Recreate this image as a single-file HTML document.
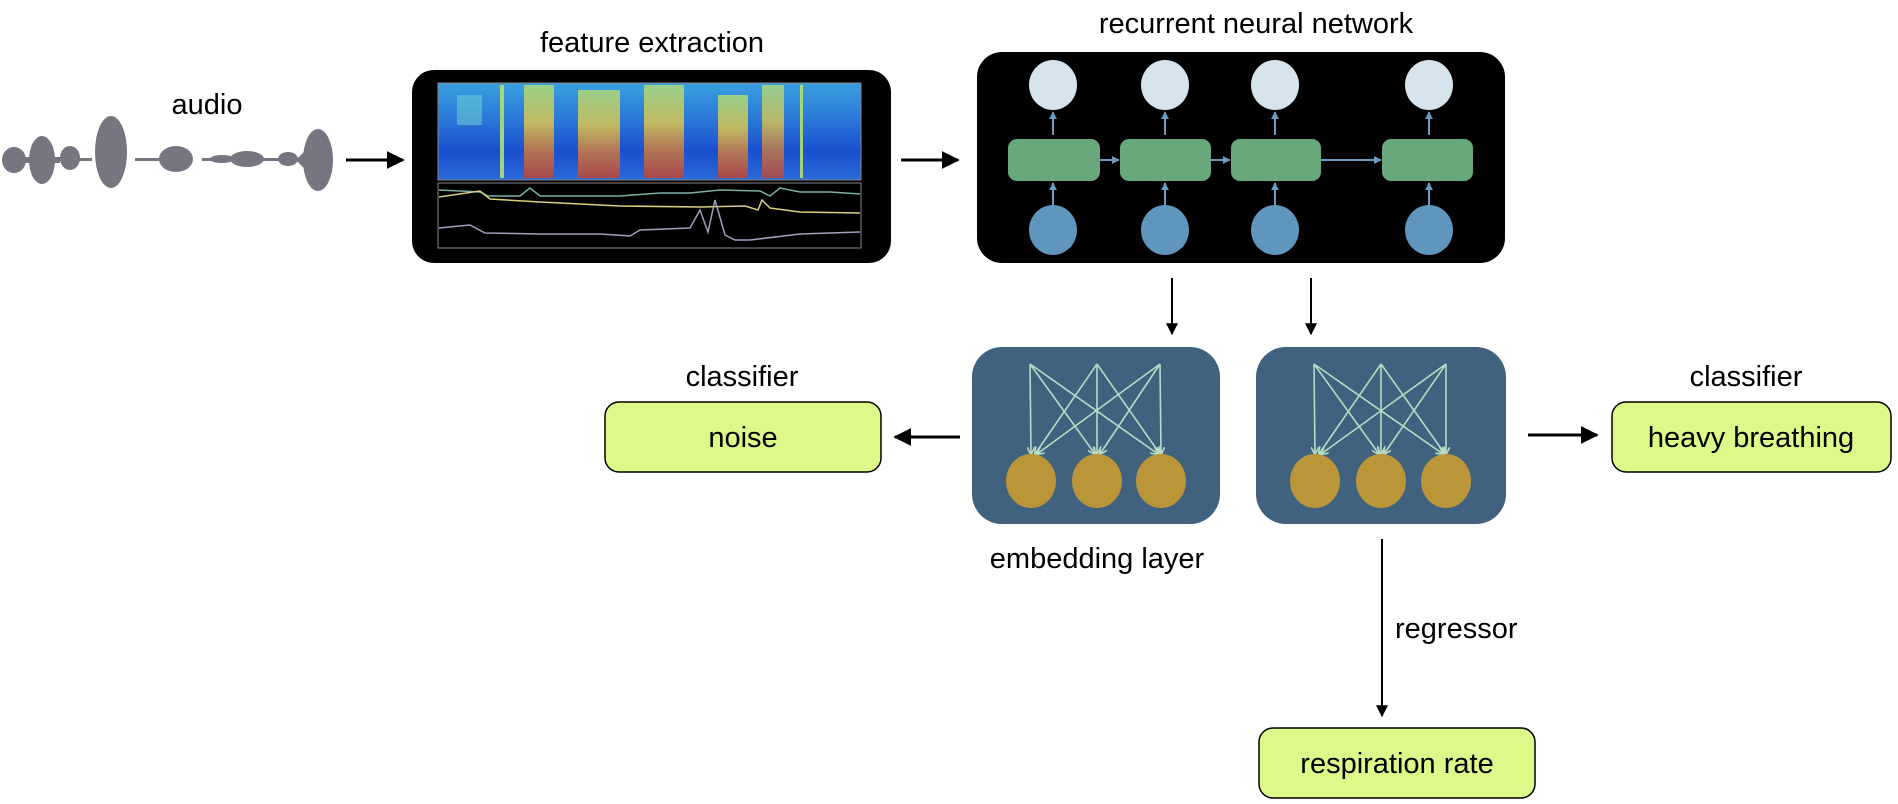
<!DOCTYPE html>
<html><head><meta charset="utf-8"><style>
html,body{margin:0;padding:0;background:#fff;}
svg{display:block;}
text{font-family:"Liberation Sans",Arial,sans-serif;fill:#000;}
</style></head><body>
<svg width="1898" height="804" viewBox="0 0 1898 804" xmlns="http://www.w3.org/2000/svg">
<defs>
<marker id="ah" viewBox="0 0 10 10" refX="9" refY="5" markerWidth="6" markerHeight="6" orient="auto"><path d="M0,0 L10,5 L0,10 z" fill="#000"/></marker>
<marker id="ahs" viewBox="0 0 10 10" refX="9" refY="5" markerWidth="4" markerHeight="4" orient="auto"><path d="M0,0 L10,5 L0,10 z" fill="#6a9cc4"/></marker>
<marker id="ahg" viewBox="0 0 10 10" refX="9" refY="5" markerWidth="5" markerHeight="5" orient="auto"><path d="M0,0 L10,5 L0,10" fill="none" stroke="#b6dcc4" stroke-width="2"/></marker>
<linearGradient id="spec" x1="0" y1="0" x2="0" y2="1">
<stop offset="0" stop-color="#3aa0e0"/><stop offset="0.35" stop-color="#2b7ad8"/><stop offset="0.7" stop-color="#1a4fd0"/><stop offset="1" stop-color="#2a6ad8"/></linearGradient>
<linearGradient id="hot" x1="0" y1="0" x2="0" y2="1">
<stop offset="0" stop-color="#b8e070"/><stop offset="0.4" stop-color="#f0d040"/><stop offset="0.7" stop-color="#e08030"/><stop offset="1" stop-color="#d04020"/></linearGradient>
</defs>

<!-- audio -->
<text x="207" y="114" font-size="29" text-anchor="middle">audio</text>
<g fill="#767680">
<ellipse cx="14" cy="160" rx="12" ry="13"/>
<ellipse cx="42" cy="160" rx="13" ry="24"/>
<rect x="20" y="157" width="40" height="6"/>
<ellipse cx="70" cy="158" rx="10" ry="12"/>
<rect x="52" y="158" width="40" height="3"/>
<ellipse cx="111" cy="152" rx="16" ry="36"/>
<rect x="135" y="158" width="30" height="3"/>
<ellipse cx="176" cy="159" rx="17" ry="13"/>
<rect x="202" y="158" width="30" height="3"/>
<ellipse cx="247" cy="159" rx="17" ry="8"/>
<ellipse cx="222" cy="159" rx="12" ry="4"/>
<rect x="260" y="158" width="25" height="3"/>
<ellipse cx="288" cy="159" rx="10" ry="7"/>
<ellipse cx="318" cy="160" rx="15" ry="31"/>
<path d="M296,160 Q305,150 318,140 L318,180 Q305,170 296,160z"/>
</g>
<line x1="346" y1="160" x2="403" y2="160" stroke="#000" stroke-width="3" marker-end="url(#ah)"/>

<!-- feature extraction -->
<text x="652" y="52" font-size="29" text-anchor="middle">feature extraction</text>
<rect x="412" y="70" width="479" height="193" rx="22" fill="#000"/>
<rect x="438" y="83" width="423" height="97" fill="url(#spec)" stroke="#888"/>
<g opacity="0.9">
<rect x="500" y="85" width="4" height="93" fill="#b0e070"/>
<rect x="524" y="85" width="30" height="93" fill="url(#hot)" opacity="0.85"/>
<rect x="578" y="90" width="42" height="88" fill="url(#hot)" opacity="0.85"/>
<rect x="644" y="85" width="40" height="93" fill="url(#hot)" opacity="0.85"/>
<rect x="718" y="95" width="30" height="83" fill="url(#hot)" opacity="0.85"/>
<rect x="762" y="85" width="22" height="93" fill="url(#hot)" opacity="0.8"/>
<rect x="800" y="85" width="3" height="93" fill="#b0e070"/>
<rect x="457" y="95" width="25" height="30" fill="#70d0d0" opacity="0.6"/>
</g>
<rect x="438" y="183" width="423" height="65" fill="#000" stroke="#888"/>
<polyline points="439,190 480,192 488,196 520,196 530,188 540,196 620,196 660,193 690,193 720,190 760,191 770,196 780,188 800,192 830,192 860,194" fill="none" stroke="#7ab0a8" stroke-width="1.5"/>
<polyline points="439,197 480,191 490,199 540,202 620,206 700,207 745,206 758,210 762,200 770,208 800,212 860,213" fill="none" stroke="#d8d080" stroke-width="1.5"/>
<polyline points="439,228 470,225 485,233 540,234 600,234 630,236 640,230 690,228 700,210 708,232 715,200 725,235 735,240 750,240 800,234 860,232" fill="none" stroke="#a0a0c0" stroke-width="1.5"/>
<line x1="901" y1="160" x2="958" y2="160" stroke="#000" stroke-width="3" marker-end="url(#ah)"/>

<!-- RNN -->
<text x="1256" y="33" font-size="29" text-anchor="middle">recurrent neural network</text>
<rect x="977" y="52" width="528" height="211" rx="25" fill="#000"/>
<g fill="#d6e4ee">
<ellipse cx="1053" cy="85" rx="24" ry="25"/><ellipse cx="1165" cy="85" rx="24" ry="25"/>
<ellipse cx="1275" cy="85" rx="24" ry="25"/><ellipse cx="1429" cy="85" rx="24" ry="25"/>
</g>
<g fill="#6096be">
<ellipse cx="1053" cy="230" rx="24" ry="25"/><ellipse cx="1165" cy="230" rx="24" ry="25"/>
<ellipse cx="1275" cy="230" rx="24" ry="25"/><ellipse cx="1429" cy="230" rx="24" ry="25"/>
</g>
<g stroke="#6a9cc4" stroke-width="2" marker-end="url(#ahs)">
<line x1="1053" y1="135" x2="1053" y2="112"/><line x1="1165" y1="135" x2="1165" y2="112"/>
<line x1="1275" y1="135" x2="1275" y2="112"/><line x1="1429" y1="135" x2="1429" y2="112"/>
<line x1="1053" y1="205" x2="1053" y2="183"/><line x1="1165" y1="205" x2="1165" y2="183"/>
<line x1="1275" y1="205" x2="1275" y2="183"/><line x1="1429" y1="205" x2="1429" y2="183"/>
<line x1="1100" y1="160" x2="1119" y2="160"/><line x1="1211" y1="160" x2="1230" y2="160"/>
<line x1="1321" y1="160" x2="1381" y2="160"/>
</g>
<g fill="#68a87b">
<rect x="1008" y="139" width="92" height="42" rx="9"/><rect x="1120" y="139" width="91" height="42" rx="9"/>
<rect x="1231" y="139" width="90" height="42" rx="9"/><rect x="1382" y="139" width="91" height="42" rx="9"/>
</g>
<g stroke="#000" stroke-width="2" marker-end="url(#ah)">
<line x1="1172" y1="278" x2="1172" y2="334"/>
<line x1="1311" y1="278" x2="1311" y2="334"/>
</g>

<!-- embedding boxes -->
<rect x="972" y="347" width="248" height="177" rx="30" fill="#41627e"/>
<rect x="1256" y="347" width="250" height="177" rx="30" fill="#41627e"/>
<g stroke="#b6dcc4" stroke-width="1.6" marker-end="url(#ahg)">
<line x1="1030" y1="364" x2="1031" y2="454"/><line x1="1030" y1="364" x2="1095" y2="454"/><line x1="1030" y1="364" x2="1158" y2="454"/>
<line x1="1097" y1="364" x2="1035" y2="454"/><line x1="1097" y1="364" x2="1097" y2="454"/><line x1="1097" y1="364" x2="1160" y2="454"/>
<line x1="1160" y1="364" x2="1037" y2="454"/><line x1="1160" y1="364" x2="1100" y2="454"/><line x1="1160" y1="364" x2="1161" y2="454"/>
<line x1="1314" y1="364" x2="1315" y2="454"/><line x1="1314" y1="364" x2="1379" y2="454"/><line x1="1314" y1="364" x2="1443" y2="454"/>
<line x1="1381" y1="364" x2="1319" y2="454"/><line x1="1381" y1="364" x2="1381" y2="454"/><line x1="1381" y1="364" x2="1445" y2="454"/>
<line x1="1446" y1="364" x2="1321" y2="454"/><line x1="1446" y1="364" x2="1384" y2="454"/><line x1="1446" y1="364" x2="1446" y2="454"/>
</g>
<g fill="#bb9638">
<ellipse cx="1031" cy="481" rx="25" ry="27"/><ellipse cx="1097" cy="481" rx="25" ry="27"/><ellipse cx="1161" cy="481" rx="25" ry="27"/>
<ellipse cx="1315" cy="481" rx="25" ry="27"/><ellipse cx="1381" cy="481" rx="25" ry="27"/><ellipse cx="1446" cy="481" rx="25" ry="27"/>
</g>
<text x="1097" y="568" font-size="29" text-anchor="middle">embedding layer</text>

<!-- classifiers -->
<text x="742" y="386" font-size="29" text-anchor="middle">classifier</text>
<rect x="605" y="402" width="276" height="70" rx="14" fill="#ddf98a" stroke="#000" stroke-width="1.5"/>
<text x="743" y="447" font-size="29" text-anchor="middle">noise</text>
<line x1="960" y1="437" x2="895" y2="437" stroke="#000" stroke-width="3" marker-end="url(#ah)"/>

<text x="1746" y="386" font-size="29" text-anchor="middle">classifier</text>
<rect x="1612" y="402" width="279" height="70" rx="14" fill="#ddf98a" stroke="#000" stroke-width="1.5"/>
<text x="1751" y="447" font-size="29" text-anchor="middle">heavy breathing</text>
<line x1="1528" y1="435" x2="1597" y2="435" stroke="#000" stroke-width="3" marker-end="url(#ah)"/>

<!-- regressor -->
<line x1="1382" y1="539" x2="1382" y2="716" stroke="#000" stroke-width="2" marker-end="url(#ah)"/>
<text x="1395" y="638" font-size="29">regressor</text>
<rect x="1259" y="728" width="276" height="70" rx="14" fill="#ddf98a" stroke="#000" stroke-width="1.5"/>
<text x="1397" y="773" font-size="29" text-anchor="middle">respiration rate</text>
</svg>
</body></html>
